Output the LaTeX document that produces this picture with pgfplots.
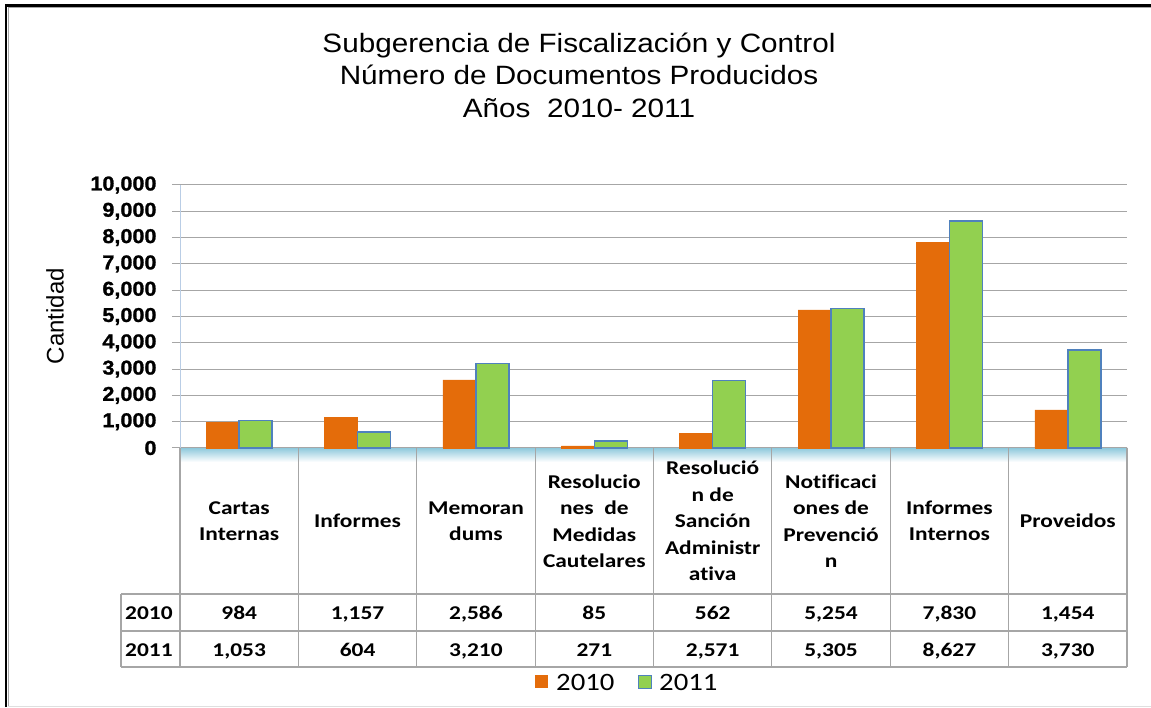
\documentclass[border=0pt]{standalone}
\usepackage{pgfplots}
\pgfplotsset{compat=1.18}
\usepackage{fontspec}
\setmainfont{Liberation Sans}
\newfontfamily\titlefont[FakeStretch=1.12]{Liberation Sans}
\newfontfamily\tickfont[FakeStretch=1.08,FakeBold=1.2]{Liberation Sans}
\newfontfamily\tabfont[FakeStretch=1.2,Ligatures=NoCommon]{Carlito}
\newfontfamily\legfont[FakeStretch=1.15]{Carlito}
\definecolor{cOr}{HTML}{E46C0A}
\definecolor{cGr}{HTML}{92D050}
\definecolor{cBl}{HTML}{4F81BD}
\definecolor{cGrid}{HTML}{A6A6A6}
\definecolor{cFloor}{HTML}{8FC9DC}
\definecolor{cYax}{HTML}{B9CDE5}
\pgfplotstableread{
x y
0 984
1 1157
2 2586
3 85
4 562
5 5254
6 7830
7 1454
}\dataA
\pgfplotstableread{
x y
0 1053
1 604
2 3210
3 271
4 2571
5 5305
6 8627
7 3730
}\dataB
\begin{document}
\begin{tikzpicture}[x=1pt,y=1pt]
\useasboundingbox (0,0) rectangle (1151,707);
% frame
\draw[line width=2.5pt,black] (6,0) -- (6,701.5) -- (1151,701.5);
\draw[line width=1pt,gray!70] (8,0) -- (8,699.5) -- (1151,699.5);
\draw[line width=1pt,gray!25] (8,1) -- (1151,1);
% title
\node[align=center,font={\titlefont\fontsize{26.5}{32.5}\selectfont}] at (579,632) {Subgerencia de Fiscalización y Control\\Número de Documentos Producidos\\Años~~2010- 2011};
% floor
\shade[top color=cFloor,bottom color=white] (180,259) rectangle (1127,245);
\begin{axis}[at={(180pt,259pt)},anchor=south west,scale only axis,
  width=947pt,height=263pt,
  xmin=-0.5,xmax=7.5,ymin=0,ymax=10000,
  ybar=0pt,bar width=33pt,
  axis x line*=bottom,axis y line*=left,
  x axis line style={draw=cGrid,line width=1pt},
  y axis line style={draw=cYax,line width=1pt},
  xtick=\empty,
  scaled y ticks=false,
  ytick={0,1000,...,10000},
  yticklabels={0,{1,000},{2,000},{3,000},{4,000},{5,000},{6,000},{7,000},{8,000},{9,000},{10,000}},
  yticklabel style={font={\tickfont\bfseries\fontsize{20}{21}\selectfont},anchor=east,xshift=-12pt},
  tick align=outside,major tick length=8pt,
  tick style={draw=cGrid,line width=1pt},
  ymajorgrids,grid style={draw=cGrid,line width=1pt},
  clip=false]
\addplot[fill=cOr,draw=cOr] table[x=x,y=y]{\dataA};
\addplot[fill=cGr,draw=cBl,line width=1.5pt] table[x=x,y=y]{\dataB};
\end{axis}
% y label
\node[rotate=90,font={\fontsize{24}{26}\selectfont}] at (55,391) {Cantidad};
% table grid
\foreach \k in {0,...,8} {\draw[cGrid,line width=1.2pt] ({180+\k*118.375},259) -- ({180+\k*118.375},40);}
\foreach \yy in {113,76,40} {\draw[cGrid,line width=1.2pt] (121,\yy) -- (1127,\yy);}
\draw[cGrid,line width=1.2pt] (121,113) -- (121,40);
% categories
\foreach \k/\t in {0/{Cartas\\Internas},1/{Informes},2/{Memoran\\dums},3/{Resolucio\\nes~ de\\Medidas\\Cautelares},4/{Resolució\\n de\\Sanción\\Administr\\ativa},5/{Notificaci\\ones de\\Prevenció\\n},6/{Informes\\Internos},7/{Proveidos}}
  {\node[align=center,font={\tabfont\bfseries\fontsize{19.5}{26.5}\selectfont}] at ({180+(\k+0.5)*118.375},186) {\t};}
\foreach \k/\t in {0/984,1/{1,157},2/{2,586},3/85,4/562,5/{5,254},6/{7,830},7/{1,454}}
  {\node[anchor=base,inner sep=0pt,font={\tabfont\bfseries\fontsize{19.5}{22}\selectfont}] at ({180+(\k+0.5)*118.375},88) {\t};}
\foreach \k/\t in {0/{1,053},1/604,2/{3,210},3/271,4/{2,571},5/{5,305},6/{8,627},7/{3,730}}
  {\node[anchor=base,inner sep=0pt,font={\tabfont\bfseries\fontsize{19.5}{22}\selectfont}] at ({180+(\k+0.5)*118.375},51) {\t};}
\node[anchor=base west,inner sep=0pt,font={\tabfont\bfseries\fontsize{19.5}{22}\selectfont}] at (125,88) {2010};
\node[anchor=base west,inner sep=0pt,font={\tabfont\bfseries\fontsize{19.5}{22}\selectfont}] at (125,51) {2011};
% legend
\fill[cOr] (535,19) rectangle (548,32);
\node[anchor=west,inner sep=0pt,font={\legfont\fontsize{25}{26}\selectfont}] at (556,25) {2010};
\fill[cGr,draw=cBl,line width=1pt] (638,19) rectangle (651,32);
\node[anchor=west,inner sep=0pt,font={\legfont\fontsize{25}{26}\selectfont}] at (659,25) {2011};
\end{tikzpicture}
\end{document}
